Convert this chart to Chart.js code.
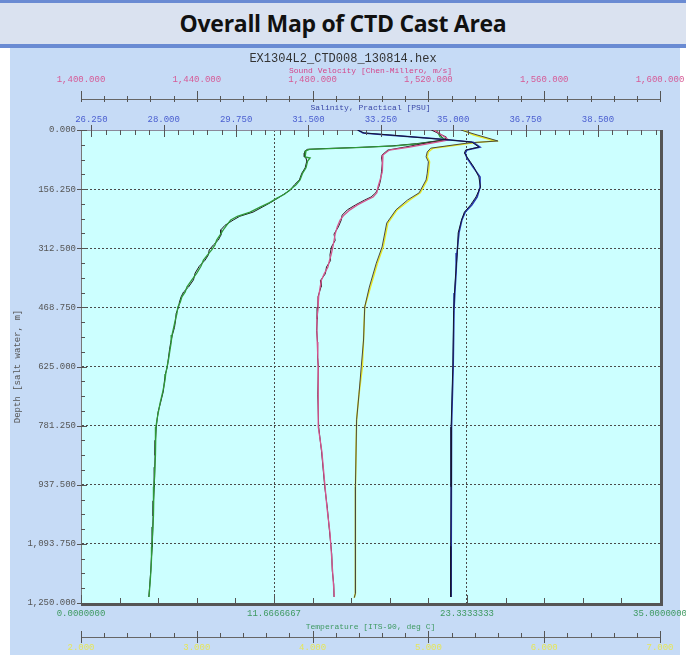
<!DOCTYPE html>
<html>
<head>
<meta charset="utf-8">
<script src="https://cdn.jsdelivr.net/npm/chart.js@4.4.1/dist/chart.umd.min.js"></script>
<style>
  html, body { margin: 0; padding: 0; background: #fff; width: 686px; height: 655px; overflow: hidden; }
  #band { position: absolute; left: 0; top: 0; width: 686px; height: 48px; box-sizing: border-box;
          background: #dae2f0; border-top: 3px solid #6a8bd3; border-bottom: 4px solid #6a8bd3; }
  #band h1 { margin: 0; font: bold 23px "Open Sans", sans-serif; line-height: 40px; text-align: center; color: #111; letter-spacing: -0.3px; }
  #panel { position: absolute; left: 10px; top: 48px; width: 670px; height: 607px; background: #c6dbf6; }
  #wrap { position: absolute; left: 0; top: 48px; width: 686px; height: 607px; }
</style>
</head>
<body>
<div id="band"><h1>Overall Map of CTD Cast Area</h1></div>
<div id="panel"></div>
<div id="wrap"><canvas id="cast"></canvas></div>
<script>
// tick labels of every axis
const depthTicks = [0, 156.25, 312.5, 468.75, 625, 781.25, 937.5, 1093.75, 1250];
const velocityTicks = [1400, 1440, 1480, 1520, 1560, 1600];
const salinityTicks = [26.25, 28, 29.75, 31.5, 33.25, 35, 36.75, 38.5];
const temperatureTicks = [0, 11.6666667, 23.3333333, 35];
const lowerTicks = [2, 3, 4, 5, 6, 7];

// temperature, two traces
const tempDepth = [0, 18, 26, 36, 42, 46, 49, 51, 55, 61, 71, 74, 82, 100, 114, 132, 145, 159, 170, 180, 192,
  204, 217, 228, 238, 252, 264, 278, 291, 304, 317, 330, 344, 360, 378, 396, 415, 428, 441, 455, 468,
  485, 502, 522, 542, 562, 581, 604, 626, 645, 661, 690, 722, 745, 766, 785, 820, 860, 891, 915, 943,
  980, 1020, 1049, 1075, 1102, 1135, 1163, 1200, 1234];
const tempValues = [21.5, 21.7, 22.1, 20.5, 19.0, 17.0, 15.0, 13.8, 13.6, 13.55, 13.55, 13.85, 13.7, 13.6, 13.4, 13.24, 13.0, 12.6, 12.3, 11.85, 11.4,
  10.82, 10.22, 9.45, 9.05, 8.8, 8.6, 8.4, 8.2, 8.1, 7.9, 7.65, 7.4, 7.25, 7.0, 6.7, 6.4, 6.3, 6.1, 6.0, 5.85,
  5.8, 5.7, 5.6, 5.5, 5.45, 5.38, 5.3, 5.2, 5.12, 5.08, 4.95, 4.78, 4.68, 4.59, 4.53, 4.51, 4.49, 4.47, 4.45, 4.41,
  4.39, 4.37, 4.35, 4.32, 4.29, 4.26, 4.23, 4.17, 4.11];
const tempValues2 = [21.4, 21.8, 22.0, 20.3, 18.8, 16.8, 14.8, 13.7, 13.55, 13.5, 13.5, 13.6, 13.65, 13.55, 13.35, 13.2, 12.9, 12.65, 12.25, 11.9, 11.45,
  10.95, 10.4, 9.6, 9.2, 8.7, 8.45, 8.45, 8.3, 8.0, 7.75, 7.7, 7.5, 7.15, 6.9, 6.8, 6.5, 6.2, 6.05, 5.95, 5.9,
  5.75, 5.72, 5.65, 5.52, 5.42, 5.35, 5.28, 5.22, 5.1, 5.05, 4.98, 4.8, 4.66, 4.6, 4.55, 4.5, 4.48, 4.46, 4.44, 4.42,
  4.38, 4.36, 4.34, 4.31, 4.3, 4.25, 4.22, 4.16, 4.1];

// sound velocity
const svDepth = [0, 18, 26, 32, 45, 53, 66, 74, 87, 110, 132, 150, 166, 177, 185, 198, 211, 225, 238, 256,
  275, 292, 309, 330, 345, 362, 380, 398, 415, 440, 468, 500, 530, 560, 600, 626, 700, 785, 850, 943,
  1000, 1065, 1120, 1165, 1200, 1234];
const svValues = [1522, 1525.5, 1527, 1523, 1513.5, 1506.5, 1504.3, 1504.0, 1504.3, 1504.0, 1503.3, 1502.6, 1502.2, 1500.9, 1498.8, 1495.5, 1492.9, 1490.8, 1489.5, 1488.5,
  1487.8, 1487.4, 1487.0, 1486.4, 1485.8, 1485.3, 1484.0, 1483.0, 1482.6, 1482.1, 1481.9, 1481.5, 1481.5, 1481.6, 1481.8, 1481.9, 1481.9, 1482.0, 1483.2, 1484.3,
  1485.0, 1486.0, 1486.5, 1486.9, 1487.2, 1487.5];
const svValues2 = [1521, 1526, 1526, 1521, 1512, 1506, 1504.0, 1503.8, 1504.1, 1503.8, 1503.5, 1502.9, 1501.8, 1500.2, 1498.0, 1494.8, 1492.0, 1490.2, 1489.9, 1488.9,
  1487.4, 1487.8, 1486.5, 1486.0, 1486.2, 1484.8, 1484.4, 1482.7, 1482.9, 1481.9, 1481.8, 1481.6, 1481.4, 1481.7, 1481.7, 1482.0, 1481.8, 1482.1, 1483.1, 1484.2,
  1485.1, 1485.9, 1486.6, 1486.8, 1487.3, 1487.4];

// salinity
const salDepth = [0, 8, 13, 21, 26, 32, 45, 53, 61, 74, 98, 124, 151, 177, 198, 217, 238, 272, 325, 378,
  431, 476, 626, 785, 943, 1100, 1234];
const salValues = [32.70, 32.82, 33.4, 34.37, 34.85, 35.48, 35.65, 35.33, 35.29, 35.33, 35.48, 35.65, 35.65, 35.58, 35.45, 35.29, 35.21, 35.14, 35.09, 35.07,
  35.04, 35.02, 35.0, 34.96, 34.95, 34.95, 34.95];
const salValues2 = [32.68, 32.85, 33.45, 34.3, 34.9, 35.45, 35.62, 35.3, 35.27, 35.35, 35.5, 35.62, 35.66, 35.55, 35.42, 35.27, 35.2, 35.12, 35.1, 35.06,
  35.03, 35.01, 34.99, 34.95, 34.95, 34.94, 34.94];

// yellow trace on the lower axis
const lowDepth = [0, 13, 29, 34, 42, 48, 58, 71, 84, 114, 132, 166, 185, 211, 246, 309, 352, 415, 468, 555,
  626, 700, 766, 943, 1224, 1236];
const lowValues = [5.30, 5.39, 5.58, 5.39, 5.19, 5.04, 5.00, 4.99, 5.01, 5.00, 4.99, 4.93, 4.84, 4.73, 4.65, 4.61, 4.56, 4.50, 4.45, 4.44,
  4.43, 4.40, 4.38, 4.37, 4.37, 4.36];
const lowValues2 = [5.28, 5.42, 5.6, 5.35, 5.16, 5.02, 4.99, 4.98, 5.0, 4.99, 4.98, 4.92, 4.82, 4.72, 4.64, 4.6, 4.55, 4.49, 4.45, 4.44,
  4.42, 4.40, 4.38, 4.37, 4.37, 4.36];

const mono = 'Liberation Mono';
const transparent = 'rgba(0,0,0,0)';

function pts(xs, ys) {
  return xs.map((v, i) => ({ x: v, y: ys[i] }));
}

// major ticks plus evenly spaced minor ones
function withMinors(majors, div, min, max) {
  const step = (majors[1] - majors[0]) / div;
  const k = Math.floor((majors[0] - min) / step + 1e-6);
  const ticks = [];
  for (let v = majors[0] - k * step; v <= max + 1e-6; v += step) {
    const major = majors.find(m => Math.abs(m - v) < step / 10);
    ticks.push(major !== undefined ? { value: major, isMajor: true } : { value: v, isMajor: false });
  }
  return ticks;
}

function fmt(v, d) {
  return v.toLocaleString('en-US', { minimumFractionDigits: d, maximumFractionDigits: d });
}

function trace(label, axis, values, depth, color, width) {
  return {
    label: label,
    xAxisID: axis,
    yAxisID: 'y',
    data: pts(values, depth),
    showLine: true,
    borderColor: color,
    borderWidth: width,
    pointRadius: 0,
    tension: 0,
  };
}

function xAxis(opts) {
  return {
    type: 'linear',
    position: opts.position,
    weight: opts.weight,
    min: opts.min,
    max: opts.max,
    afterBuildTicks: s => { s.ticks = withMinors(opts.majors, 5, opts.min, opts.max) },
    afterFit: s => { s.height = opts.height; s.paddingLeft = 0; s.paddingRight = 0 },
    grid: {
      drawTicks: false,
      color: opts.grid || transparent,
    },
    border: { display: opts.border !== false, color: opts.borderColor || '#666', width: 1, dash: [2, 2] },
    ticks: {
      autoSkip: false, maxRotation: 0, minRotation: 0,
      padding: opts.labelPad,
      color: opts.color,
      font: { family: mono, size: 9 },
      callback: (v, i, t) => t[i].isMajor ? fmt(v, opts.digits) : '',
    },
    title: {
      display: !!opts.title,
      text: opts.title,
      color: opts.titleColor || opts.color,
      font: { family: mono, size: 8 },
      padding: opts.titlePad,
    },
  };
}

// tick marks: offsets from the axis line, [from, to]
const marks = {
  y:  { major: [-4, 6], minor: [0, 4] },
  xS: { major: [-5, 7], minor: [0, 5] },
  xV: { major: [-8, 3], minor: [-3, 3] },
  xT: { major: [-8, 0], minor: [-5, 0] },
  xL: { major: [-6, 6], minor: [-4, 1] },
};

const plotFrame = {
  id: 'plotFrame',
  beforeDraw(chart) {
    const { ctx, chartArea: a } = chart;
    ctx.save();
    ctx.fillStyle = '#ccffff';
    ctx.fillRect(a.left, a.top, a.right - a.left, a.bottom - a.top);
    ctx.restore();
  },
  afterDraw(chart) {
    const { ctx, chartArea: a } = chart;
    ctx.save();
    ctx.fillStyle = '#555';
    ctx.fillRect(a.right, a.top, 3, a.bottom - a.top + 3);
    ctx.fillRect(a.left, a.bottom, a.right - a.left + 3, 3);

    ctx.strokeStyle = '#555';
    ctx.lineWidth = 1;
    Object.keys(marks).forEach(id => {
      const scale = chart.scales[id];
      const m = marks[id];
      scale.ticks.forEach(t => {
        const [p, q] = t.isMajor ? m.major : m.minor;
        const pos = scale.getPixelForValue(t.value);
        ctx.beginPath();
        if (scale.isHorizontal()) {
          const base = scale.position === 'top' ? scale.bottom : scale.top;
          const x = Math.round(pos) + 0.5;
          ctx.moveTo(x, base + p);
          ctx.lineTo(x, base + q);
        } else {
          const y = Math.round(pos) + 0.5;
          ctx.moveTo(scale.right + p, y);
          ctx.lineTo(scale.right + q, y);
        }
        ctx.stroke();
      });
    });
    ctx.restore();
  }
};

new Chart(document.getElementById('cast'), {
  type: 'scatter',
  data: {
    datasets: [
      trace('Salinity 2', 'xS', salValues2, salDepth, '#151530', 1),
      trace('Salinity', 'xS', salValues, salDepth, '#2436b0', 1.5),
      trace('Lower 2', 'xL', lowValues2, lowDepth, '#4a4a3c', 1),
      trace('Lower', 'xL', lowValues, lowDepth, '#e8e82a', 1.5),
      trace('Sound Velocity', 'xV', svValues, svDepth, '#d6558f', 1.3),
      trace('Sound Velocity 2', 'xV', svValues2, svDepth, '#3a1a28', 1),
      trace('Temperature', 'xT', tempValues, tempDepth, '#2f9a3a', 1.3),
      trace('Temperature 2', 'xT', tempValues2, tempDepth, '#1b1b1b', 1),
    ]
  },
  options: {
    responsive: true,
    maintainAspectRatio: false,
    animation: false,
    layout: { padding: 0 },
    plugins: {
      legend: { display: false },
      tooltip: { enabled: false },
      title: {
        display: true,
        text: 'EX1304L2_CTD008_130814.hex',
        color: '#333',
        font: { family: mono, size: 12, weight: 'normal' },
        padding: { top: 4, bottom: 0 },
      },
    },
    scales: {
      y: {
        type: 'linear',
        position: 'left',
        reverse: true,
        min: 0,
        max: 1250,
        afterBuildTicks: s => { s.ticks = withMinors(depthTicks, 4, 0, 1250) },
        afterFit: s => { s.width = 81; s.paddingTop = 0; s.paddingBottom = 0 },
        grid: {
          drawTicks: false,
          color: c => (c.tick && c.tick.isMajor && c.tick.value > 0 && c.tick.value < 1250) ? '#4a4a4a' : transparent,
        },
        border: { display: true, color: '#777', width: 1, dash: [2, 2] },
        ticks: {
          autoSkip: false,
          padding: 5,
          color: '#555',
          font: { family: mono, size: 9 },
          callback: (v, i, t) => t[i].isMajor ? fmt(v, 3) : '',
        },
        title: {
          display: true,
          text: 'Depth [salt water, m]',
          color: '#555',
          font: { family: mono, size: 9 },
          padding: { top: 12.6, bottom: 0 },
        },
      },
      yR: {
        type: 'linear',
        position: 'right',
        afterFit: s => { s.width = 26 },
        grid: { display: false },
        border: { display: false },
        ticks: { display: false },
      },
      xV: xAxis({
        position: 'top', weight: 10, min: 1400, max: 1600, majors: velocityTicks, height: 32.6,
        labelPad: 13.6, color: '#d65a96', titleColor: '#d4458a', digits: 3,
        title: 'Sound Velocity [Chen-Millero, m/s]', titlePad: { top: 0, bottom: 0 },
      }),
      xS: xAxis({
        position: 'top', weight: 1, min: 26, max: 40, majors: salinityTicks, height: 31,
        labelPad: 4.6, color: '#4a5ed0', titleColor: '#3a48a8', digits: 3, borderColor: '#8a8a9a',
        title: 'Salinity, Practical [PSU]', titlePad: { top: 4.2, bottom: 0 },
      }),
      xT: xAxis({
        position: 'bottom', weight: 1, min: 0, max: 35, majors: temperatureTicks, height: 34,
        labelPad: 5.6, color: '#3f9a62', digits: 7, border: false,
        grid: c => (c.tick && c.tick.isMajor && c.tick.value > 0.1 && c.tick.value < 34.9) ? '#4a4a4a' : transparent,
        title: 'Temperature [ITS-90, deg C]', titlePad: { top: 0, bottom: 5.6 },
      }),
      xL: xAxis({
        position: 'bottom', weight: 10, min: 2, max: 7, majors: lowerTicks, height: 18,
        labelPad: 5.6, color: '#e6e65a', digits: 3,
      }),
    },
  },
  plugins: [plotFrame],
});
</script>
</body>
</html>
